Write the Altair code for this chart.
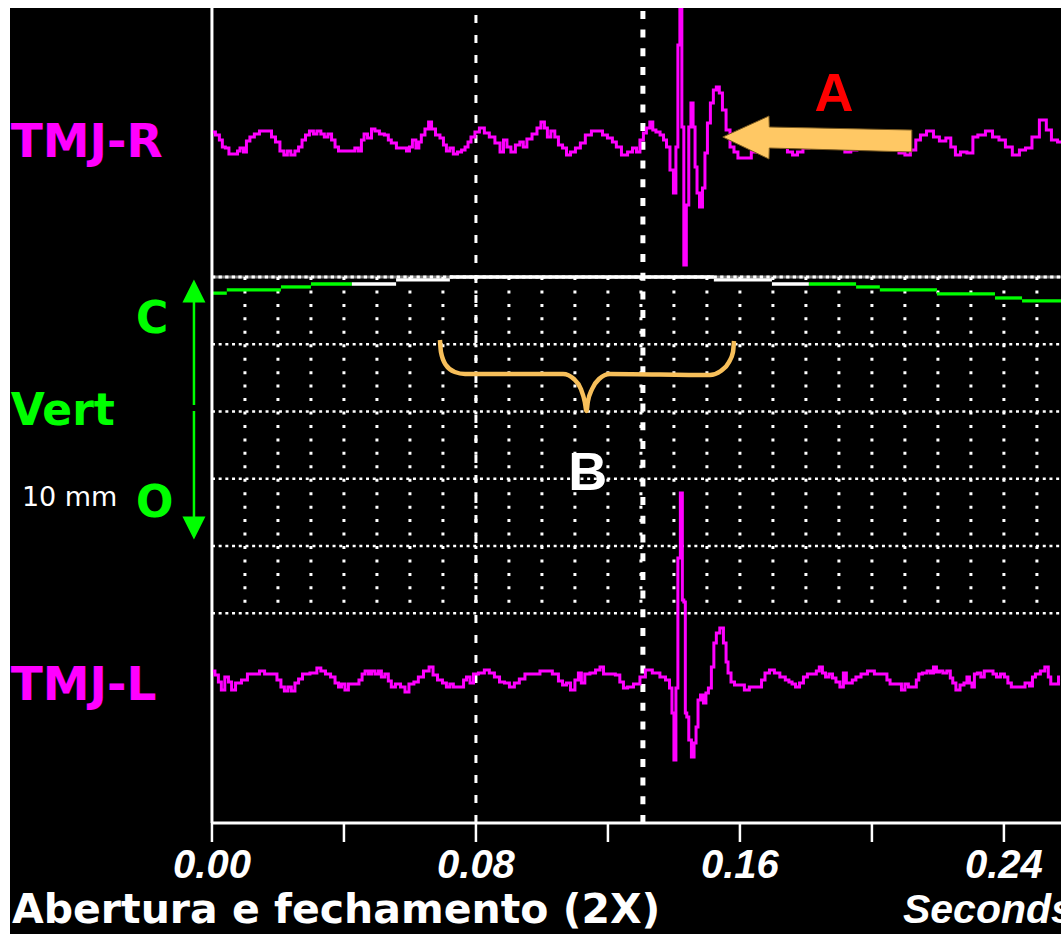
import altair as alt
import pandas as pd

# ---------------------------------------------------------------------------
# Signals
# ---------------------------------------------------------------------------
# TMJ right channel: sample time (ms) and amplitude (display units, up = +)
R_T = [0.3, 1.8, 2.7, 3.6, 4.5, 5.8, 7.6, 7.9, 9.1, 10.0, 10.9, 12.1, 13.6, 15.2, 17.6, 18.5,
       20.0, 21.2, 22.4, 23.3, 24.5, 25.8, 26.7, 27.9, 28.8, 30.3, 31.2, 32.4, 33.6, 34.5, 35.8,
       36.7, 37.9, 38.8, 42.7, 43.9, 44.8, 45.8, 46.4, 47.9, 48.8, 50.0, 51.5, 53.0, 53.9, 54.8,
       57.0, 58.5, 59.4, 60.3, 61.2, 62.4, 63.0, 63.9, 65.2, 66.1, 67.0, 68.5, 69.7, 70.6, 71.5,
       72.7, 73.6, 75.2, 76.1, 77.3, 77.9, 79.1, 80.3, 81.8, 83.3, 84.8, 86.7, 87.9, 88.8, 90.0,
       91.2, 92.7, 93.9, 94.8, 96.1, 97.9, 99.1, 100.3, 101.2, 102.1, 103.3, 104.5, 105.5, 107.0,
       107.9, 109.4, 110.9, 112.4, 113.9, 116.1, 117.6, 119.1, 120.6, 122.1, 123.0, 125.2, 126.7,
       128.2, 129.1, 130.3, 131.2, 132.1, 133.3, 133.9, 135.2, 136.4, 137.3, 138.2, 139.4, 140.3,
       140.9, 141.5, 142.1, 142.7, 143.3, 144.2, 144.8, 145.5, 146.1, 146.7, 147.3, 148.2, 149.1,
       149.7, 150.6, 151.5, 152.4, 153.3, 154.2, 155.2, 156.4, 157.6, 158.8, 160.0, 162.4, 164.5,
       166.7, 169.1, 171.5, 173.6, 175.2, 176.7, 178.2, 180.0, 181.8, 183.6, 185.5, 187.3, 189.1,
       190.9, 192.7, 194.5, 196.4, 198.2, 200.0, 201.8, 203.6, 205.5, 207.3, 209.1, 210.9, 212.4,
       214.2, 215.2, 217.9, 219.4, 221.5, 223.3, 224.5, 226.1, 227.6, 230.0, 231.2, 233.0, 235.8,
       237.3, 239.7, 241.2, 243.9, 245.5, 247.6, 249.4, 252.1, 253.6, 255.2, 257.3]
R_AMP = [8, 5, 0, -7, -8, -14, -14, -11, -8, -12, -1, 3, 6, 9, 9, 3,
         -2, -11, -15, -11, -15, -11, -7, 0, 5, 9, 6, 9, 6, 3, 6,
         0, -7, -11, -11, -8, -11, 0, 6, 2, 11, 9, 6, 5, 0, -3,
         -8, -8, -11, -7, 0, -8, -2, 5, 11, 18, 11, 5, 2, -5, -11,
         -8, -14, -12, -10, -7, -2, 3, 8, 12, 7, 3, -3, -12, 0, -7,
         -12, -5, -2, -7, 1, 6, 12, 18, 12, 3, 9, 3, -5, -8,
         -15, -12, -8, -3, 5, 9, 9, 5, 2, -2, -7, -15, -12,
         -8, -12, 0, 7, 12, 18, 10, 8, 5, 0, -7, -30, -53,
         -7, 95, 150, 13, -125, -65, 13, 37, 13, -27, -53, -67, -48,
         -13, 17, 37, 50, 53, 47, 30, 10, -7, -12, -18, -18, -12,
         -5, 0, 0, -7, -12, -15, -12, -8, 0, 5, 6, 2, -3,
         -8, -12, -10, -5, 0, 4, 7, 4, -2, -8, -13, -15, -10,
         0, 5, 9, 3, -1, 2, -7, -15, -12, -13, 3, 5, 9,
         3, 0, -7, -15, -10, -8, 3, 20, 10, 0, -2]

# TMJ left channel
L_T = [0.3, 1.5, 2.4, 3.3, 4.5, 5.5, 6.4, 7.9, 10.0, 11.5, 13.6, 15.2, 16.7, 19.1, 20.3, 21.5,
       22.4, 23.6, 24.5, 25.8, 26.7, 28.2, 31.2, 32.4, 33.6, 35.2, 36.7, 37.9, 38.8, 39.7, 40.9,
       41.8, 43.9, 45.2, 45.8, 47.0, 47.9, 48.8, 50.0, 50.9, 51.8, 53.0, 53.9, 54.8, 56.4, 57.9,
       59.1, 60.3, 62.1, 63.0, 65.2, 66.4, 67.6, 69.1, 70.6, 71.5, 72.7, 73.6, 75.8, 76.7, 77.6,
       78.8, 79.7, 81.8, 83.3, 84.8, 86.4, 87.9, 89.4, 90.9, 92.4, 93.9, 95.8, 98.5, 100.3, 101.8,
       104.5, 105.5, 107.0, 107.9, 109.4, 110.6, 111.5, 112.4, 113.6, 115.5, 117.0, 118.2, 119.1,
       121.5, 123.0, 124.2, 125.2, 126.7, 128.8, 130.6, 132.1, 134.8, 136.7, 138.2, 139.1, 139.7,
       140.3, 140.9, 141.5, 142.4, 142.7, 143.3, 143.6, 144.2, 144.8, 145.8, 146.4, 147.0, 147.6,
       148.5, 149.4, 150.0, 150.9, 151.8, 152.4, 153.3, 154.5, 155.5, 156.1, 156.7, 157.9, 158.8,
       160.6, 162.1, 163.6, 166.1, 167.0, 168.2, 169.7, 171.2, 173.0, 174.5, 175.2, 176.4, 177.3,
       178.8, 179.7, 181.2, 182.7, 183.6, 184.5, 185.5, 186.4, 187.6, 188.5, 189.7, 190.9, 191.8,
       192.7, 193.6, 194.5, 195.8, 197.6, 199.7, 201.8, 203.9, 205.2, 205.8, 208.5, 209.4, 210.6,
       211.5, 213.0, 213.9, 214.5, 216.1, 217.3, 218.2, 219.1, 220.0, 220.9, 222.1, 223.3, 224.2,
       224.8, 226.1, 227.3, 228.5, 229.1, 230.0, 230.6, 231.5, 232.4, 233.6, 234.5, 236.1, 237.3,
       238.2, 239.7, 240.6, 241.8, 242.7, 245.8, 247.0, 248.5, 248.8, 250.3, 251.8, 253.0, 253.9,
       254.5, 256.1, 257.0]
L_AMP = [9, 5, -2, -10, 3, -2, -10, -3, 0, 6, 6, 9, 6, 6, 0, -7,
         -11, -7, -11, -3, 1, 6, 7, 12, 9, 6, 3, -3, -7, -4, -10,
         -4, -4, 0, 6, 9, 6, 9, 6, 9, 3, 6, -1, -7, -4, -7,
         -12, -4, -2, 3, 9, 13, 5, 0, -3, -7, -4, -7, -7, 0, 3,
         -3, 6, 7, 10, 7, 3, -2, -3, -7, -3, 1, 6, 6, 9, 9,
         6, -1, -5, -3, -10, 0, 7, -3, 6, 7, 10, 13, 6,
         6, 5, -2, -8, -7, -4, 3, 10, 7, 3, 0, -8, -33,
         -80, -8, 122, 187, 80, 78, -33, -37, -60, -77, -63, -47, -20,
         -15, -23, -13, -8, 13, 37, 47, 52, 37, 18, 7, -2, -5,
         -5, -10, -7, -7, 0, 7, 10, 7, 3, 0, -2, -4, -7,
         -3, 3, 6, 6, 9, 13, 7, 3, 6, 2, -2, -7, 7,
         -3, -3, 0, 3, 6, 9, 6, 6, 0, -4, -4, -10, -4,
         -7, -7, 0, 6, 7, 9, 7, 13, 8, 9, 7, 9, 2,
         -3, -10, -5, -3, 3, -3, -7, 6, 7, 3, 9, 9, 6,
         3, 6, 3, -3, -7, -7, -3, -6, 3, 6, 9, 13, 3,
         -4, -4, 3]

# Vertical jaw position (mm below closed), as steps
VERT_START_MS = [0.0, 4.5, 20.9, 30.0, 42.4, 55.8, 72.1, 152.1, 169.7, 180.9, 195.2, 202.4,
                 219.7, 237.3, 245.5]
VERT_END_MS = [4.5, 20.9, 30.0, 42.4, 55.8, 72.1, 152.1, 169.7, 180.9, 195.2, 202.4, 219.7,
               237.3, 245.5, 257.3]
VERT_MM = [-0.6, -0.48, -0.37, -0.26, -0.26, -0.11, 0.0, -0.11, -0.26, -0.26, -0.37, -0.48,
           -0.63, -0.78, -0.89]
VERT_IN_WINDOW = [False, False, False, False, True, True, True, True, True, False, False, False,
                  False, False, False]

# Time axis
MAJOR_TICKS_MS = [0, 80, 160, 240]
MAJOR_LABELS = ["0.00", "0.08", "0.16", "0.24"]
MINOR_TICKS_MS = [40, 120, 200]
GRID_MS = [10, 20, 30, 40, 50, 60, 70, 80, 90, 100, 110, 120, 130, 140, 150, 160, 170, 180,
           190, 200, 210, 220, 230, 240, 250]
GRID_MM = [0.0, -2.5, -5.0, -7.5, -10.0, -12.5]
CURSOR_MS = [80.0, 130.6]

# Annotation shapes (ms / display units)
ARROW_MS = [154.8, 168.8, 168.9, 212.1]
ARROW_TOP = [797, 818, 807, 804]
ARROW_BOTTOM = [797, 775, 786, 782]
BRACE_MS = [69.1, 69.4, 70.9, 73.6, 76.7, 106.4, 109.7, 111.8, 113.0, 113.5, 113.9, 115.2,
            117.3, 120.6, 150.9, 154.2, 156.7, 157.9, 158.2]
BRACE_Y = [594, 582, 569, 562, 560, 560, 555, 545, 532, 523, 532, 545, 555, 560, 559, 563,
           572, 582, 593]

# ---------------------------------------------------------------------------
# Layout
# ---------------------------------------------------------------------------
X_MIN, X_MAX = -61.2, 257.3
W, H = 1051, 926
R_BASE, L_BASE = 794, 254
VERT_TOP, PX_PER_MM = 657, 26.9
AXIS_Y = 111
TICK_LEN = 19

MAGENTA = "#FF00FF"
GREEN = "#00FF00"
ORANGE = "#FFC864"

xs = alt.Scale(domain=[X_MIN, X_MAX], nice=False, zero=False)
ys = alt.Scale(domain=[0, H], nice=False, zero=False)


def X(f="x"):
    return alt.X(f"{f}:Q", scale=xs, axis=None)


def Y(f="y"):
    return alt.Y(f"{f}:Q", scale=ys, axis=None)


def mm_to_y(mm):
    return VERT_TOP + mm * PX_PER_MM


# data frames
r_df = pd.DataFrame({"x": R_T, "y": [R_BASE + a for a in R_AMP]})
l_df = pd.DataFrame({"x": L_T, "y": [L_BASE + a for a in L_AMP]})
vert_df = pd.DataFrame({
    "x": VERT_START_MS, "x2": VERT_END_MS,
    "y": [mm_to_y(v) for v in VERT_MM],
    "phase": ["window" if w else "rest" for w in VERT_IN_WINDOW],
})
hgrid_df = pd.DataFrame({"y": [mm_to_y(m) for m in GRID_MM[1:]], "x": 0.0, "x2": X_MAX})
top_df = pd.DataFrame({"y": [mm_to_y(GRID_MM[0])], "x": 0.0, "x2": X_MAX})
vgrid_df = pd.DataFrame({"x": GRID_MS, "y": mm_to_y(GRID_MM[0]), "y2": mm_to_y(GRID_MM[-1])})
ticks_df = pd.DataFrame({"x": MAJOR_TICKS_MS + MINOR_TICKS_MS, "y": AXIS_Y,
                         "y2": AXIS_Y - TICK_LEN})
labels_df = pd.DataFrame({"x": MAJOR_TICKS_MS, "y": 56, "label": MAJOR_LABELS})
arrow_df = pd.DataFrame({"x": ARROW_MS, "y": ARROW_TOP, "y2": ARROW_BOTTOM})
brace_df = pd.DataFrame({"x": BRACE_MS, "y": BRACE_Y, "i": list(range(len(BRACE_MS)))})

layers = []

# grid
layers.append(alt.Chart(hgrid_df).mark_rule(color="white", strokeWidth=2.5, strokeDash=[3, 3.7])
              .encode(x=X(), x2="x2:Q", y=Y()))
layers.append(alt.Chart(top_df).mark_rule(color="#808080", strokeWidth=3)
              .encode(x=X(), x2="x2:Q", y=Y()))
layers.append(alt.Chart(top_df).mark_rule(color="white", strokeWidth=3, strokeDash=[3.3, 3.3])
              .encode(x=X(), x2="x2:Q", y=Y()))
layers.append(alt.Chart(vgrid_df).mark_rule(color="white", strokeWidth=3, strokeDash=[3, 10.45])
              .encode(x=X(), y=Y(), y2="y2:Q"))

# vertical jaw trace
layers.append(alt.Chart(vert_df).mark_rule(strokeWidth=3.3)
              .encode(x=X(), x2="x2:Q", y=Y(),
                      color=alt.Color("phase:N", legend=None,
                                      scale=alt.Scale(domain=["rest", "window"],
                                                      range=[GREEN, "white"]))))

# axes
layers.append(alt.Chart(pd.DataFrame({"x": [0.0], "x2": [X_MAX], "y": [AXIS_Y]}))
              .mark_rule(color="white", strokeWidth=3).encode(x=X(), x2="x2:Q", y=Y()))
layers.append(alt.Chart(pd.DataFrame({"x": [0.0], "y": [AXIS_Y], "y2": [H]}))
              .mark_rule(color="white", strokeWidth=3).encode(x=X(), y=Y(), y2="y2:Q"))
layers.append(alt.Chart(ticks_df).mark_rule(color="white", strokeWidth=2.5)
              .encode(x=X(), y=Y(), y2="y2:Q"))
layers.append(alt.Chart(labels_df)
              .mark_text(font="Liberation Sans", fontSize=40, fontWeight="bold",
                         fontStyle="italic", color="white", align="center",
                         baseline="alphabetic")
              .encode(x=X(), y=Y(), text="label:N"))

# cursors
layers.append(alt.Chart(pd.DataFrame({"x": [CURSOR_MS[0]], "y": [AXIS_Y], "y2": [H]}))
              .mark_rule(color="white", strokeWidth=3, strokeDash=[8, 12])
              .encode(x=X(), y=Y(), y2="y2:Q"))
layers.append(alt.Chart(pd.DataFrame({"x": [CURSOR_MS[1]], "y": [AXIS_Y], "y2": [H]}))
              .mark_rule(color="white", strokeWidth=5, strokeDash=[8, 10.7])
              .encode(x=X(), y=Y(), y2="y2:Q"))

# TMJ traces (sample-and-hold, as on the recorder screen)
layers.append(alt.Chart(r_df).mark_line(color=MAGENTA, strokeWidth=3, clip=True,
                                        interpolate="step", strokeJoin="miter")
              .encode(x=X(), y=Y(), order="x:Q"))
layers.append(alt.Chart(l_df).mark_line(color=MAGENTA, strokeWidth=3, clip=True,
                                        interpolate="step", strokeJoin="miter")
              .encode(x=X(), y=Y(), order="x:Q"))

# orange arrow and brace
layers.append(alt.Chart(arrow_df).mark_area(color=ORANGE, stroke="#7a5a20", strokeWidth=1,
                                            opacity=1)
              .encode(x=X(), y=Y(), y2="y2:Q"))
layers.append(alt.Chart(brace_df).mark_line(color="#F7BF5A", strokeWidth=4.5,
                                            interpolate="monotone")
              .encode(x=X(), y=Y(), order="i:Q"))

# green open/close arrow
layers.append(alt.Chart(pd.DataFrame({"x": [-5.45, -5.45], "y": [634, 523], "y2": [529, 414]}))
              .mark_rule(color=GREEN, strokeWidth=2.5).encode(x=X(), y=Y(), y2="y2:Q"))
layers.append(alt.Chart(pd.DataFrame({"x": [-5.45], "y": [643]}))
              .mark_point(shape="M0,-1L-1,1L1,1Z", size=529, filled=True, color=GREEN,
                          opacity=1, strokeWidth=0)
              .encode(x=X(), y=Y()))
layers.append(alt.Chart(pd.DataFrame({"x": [-5.45], "y": [406]}))
              .mark_point(shape="M0,1L-1,-1L1,-1Z", size=529, filled=True, color=GREEN,
                          opacity=1, strokeWidth=0)
              .encode(x=X(), y=Y()))

# channel labels
chan_df = pd.DataFrame({"x": [-61.0, -61.0], "y": [777, 234], "label": ["TMJ-R", "TMJ-L"]})
layers.append(alt.Chart(chan_df)
              .mark_text(font="DejaVu Sans", fontSize=47, fontWeight="bold", color=MAGENTA,
                         align="left", baseline="alphabetic")
              .encode(x=X(), y=Y(), text="label:N"))
vert_lbl = pd.DataFrame({"x": [-61.0, -23.0, -23.0], "y": [509, 601, 417],
                         "label": ["Vert", "C", "O"]})
layers.append(alt.Chart(vert_lbl)
              .mark_text(font="DejaVu Sans", fontSize=44, fontWeight="bold", color=GREEN,
                         align="left", baseline="alphabetic")
              .encode(x=X(), y=Y(), text="label:N"))
layers.append(alt.Chart(pd.DataFrame({"x": [-57.6], "y": [428], "label": ["10 mm"]}))
              .mark_text(font="DejaVu Sans", fontSize=27, color="white", align="left",
                         baseline="alphabetic")
              .encode(x=X(), y=Y(), text="label:N"))

# A / B markers
layers.append(alt.Chart(pd.DataFrame({"x": [188.5], "y": [823], "label": ["A"]}))
              .mark_text(font="Liberation Sans", fontSize=54, fontWeight="bold",
                         color="#FF0000", align="center", baseline="alphabetic")
              .encode(x=X(), y=Y(), text="label:N"))
layers.append(alt.Chart(pd.DataFrame({"x": [113.9], "y": [444], "label": ["B"]}))
              .mark_text(font="Liberation Sans", fontSize=54, fontWeight="bold",
                         color="white", align="center", baseline="alphabetic")
              .encode(x=X(), y=Y(), text="label:N"))

# titles
layers.append(alt.Chart(pd.DataFrame({"x": [-60.6], "y": [11],
                                      "label": ["Abertura e fechamento (2X)"]}))
              .mark_text(font="DejaVu Sans", fontSize=41, fontWeight="bold", color="white",
                         align="left", baseline="alphabetic")
              .encode(x=X(), y=Y(), text="label:N"))
layers.append(alt.Chart(pd.DataFrame({"x": [209.4], "y": [11], "label": ["Seconds"]}))
              .mark_text(font="Liberation Sans", fontSize=41, fontWeight="bold",
                         fontStyle="italic", color="white", align="left",
                         baseline="alphabetic")
              .encode(x=X(), y=Y(), text="label:N"))

chart = (
    alt.layer(*layers)
    .properties(width=W, height=H, background="white",
                padding={"left": 10, "top": 8, "right": 0, "bottom": 0},
                autosize=alt.AutoSizeParams(type="none"))
    .configure_view(fill="black", strokeWidth=0)
)

chart.save("out.html", embed_options={"renderer": "svg", "actions": False})
